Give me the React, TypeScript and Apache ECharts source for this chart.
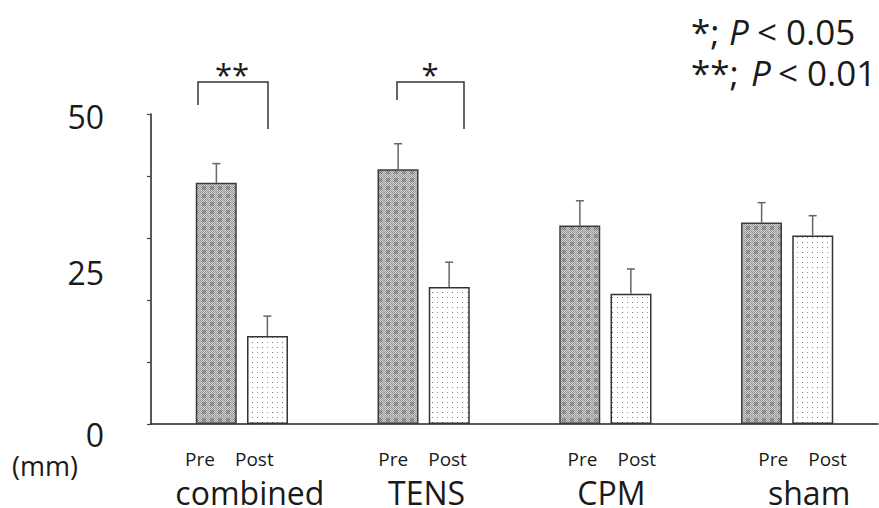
import React, { useEffect, useRef } from "react";
import * as echarts from "echarts";

const categories = ["combined", "TENS", "CPM", "sham"];
const preValues = [38.9, 41.1, 32.0, 32.5];
const postValues = [14.2, 22.1, 21.0, 30.4];
const preErr = [3.1, 4.1, 4.0, 3.2];
const postErr = [3.2, 4.0, 4.0, 3.2];
const yTickLabels = [0, 25, 50];
const subLabels = ["Pre", "Post"];
const sigMarks = ["*;", "**;"];
const sigLevels = ["< 0.05", "< 0.01"];

// layout-only tweaks (pixels)
const line1Shift = [-12.5, -1, 6.5, 15.5];
const line2Shift = [8, 3, 6, 22];
const yLabelPad: Record<number, number> = { 0: 20, 25: 7, 50: 4 };

const FONT = "'Open Sans', 'Noto Sans', sans-serif";
const BAR_W = 41;
const HALF_OFF = 25.5;

function makePrePattern() {
  const c = document.createElement("canvas");
  c.width = 8;
  c.height = 8;
  const ctx = c.getContext("2d")!;
  for (let y = 0; y < 8; y++) {
    for (let x = 0; x < 8; x++) {
      const inner = x >= 2 && x <= 5 && y >= 2 && y <= 5;
      const odd = (x + y) % 2 === 0;
      let col;
      if (inner) col = odd ? "#7a7a7a" : "#a4a4a4";
      else col = odd ? "#969696" : "#d0d0d0";
      ctx.fillStyle = col;
      ctx.fillRect(x, y, 1, 1);
    }
  }
  return c;
}

function makePostPattern() {
  const c = document.createElement("canvas");
  c.width = 10;
  c.height = 10;
  const ctx = c.getContext("2d")!;
  ctx.fillStyle = "#ffffff";
  ctx.fillRect(0, 0, 10, 10);
  ctx.fillStyle = "#6a6a6a";
  ctx.fillRect(2, 2, 1, 1);
  ctx.fillStyle = "#909090";
  ctx.fillRect(7, 7, 1, 1);
  ctx.fillStyle = "#a0a0a0";
  ctx.fillRect(7, 2, 1, 1);
  ctx.fillStyle = "#888888";
  ctx.fillRect(2, 7, 1, 1);
  return c;
}

export default function App() {
  const ref = useRef<HTMLDivElement>(null);
  useEffect(() => {
    if (!ref.current) return;
    const chart = echarts.init(ref.current, undefined, { renderer: "svg" });

    const rich: any = {
      p: { fontFamily: FONT, fontSize: 19, color: "#1a1a1a", lineHeight: 26 },
      g: { width: 20 },
      c: { fontFamily: FONT, fontSize: 32, color: "#1a1a1a", lineHeight: 40 },
    };
    const shiftToken = (key: string, d: number) => {
      rich[key] = { width: Math.abs(d) * 2, lineHeight: 10 };
    };
    categories.forEach((_, i) => {
      shiftToken("a" + i, line1Shift[i]);
      shiftToken("b" + i, line2Shift[i]);
    });

    const errData = (vals: number[], errs: number[], side: number) =>
      vals.map((v, i) => [i, v, v + errs[i], side]);

    const renderErr = (params: any, api: any) => {
      const ci = api.value(0);
      const side = api.value(3);
      const base = api.coord([ci, api.value(1)]);
      const top = api.coord([ci, api.value(2)]);
      const x = base[0] + side * HALF_OFF;
      return {
        type: "group",
        children: [
          {
            type: "line",
            shape: { x1: x, y1: base[1], x2: x, y2: top[1] },
            style: { stroke: "#666", lineWidth: 1.5 },
          },
          {
            type: "line",
            shape: { x1: x - 4, y1: top[1], x2: x + 4, y2: top[1] },
            style: { stroke: "#666", lineWidth: 1.5 },
          },
        ],
      };
    };

    const txt = { fontFamily: FONT, fill: "#1a1a1a" };
    const legendLeft = [
      [691, 729, 757],
      [691, 751, 778],
    ];
    const legendY = [31, 72];
    const legendItems: any[] = [];
    sigMarks.forEach((m, i) => {
      const xs = legendLeft[i];
      const y = legendY[i];
      legendItems.push(
        { type: "text", x: xs[0], y, style: { ...txt, text: m, fontSize: 35, verticalAlign: "middle", align: "left" } },
        { type: "text", x: xs[1], y, style: { ...txt, text: "P", fontSize: 35, fontStyle: "italic", verticalAlign: "middle", align: "left" } },
        { type: "text", x: xs[2], y, style: { ...txt, text: sigLevels[i], fontSize: 35, verticalAlign: "middle", align: "left" } }
      );
    });

    chart.setOption({
      animation: false,
      backgroundColor: "#ffffff",
      grid: { left: 151, right: 1, top: 114, bottom: 80 },
      xAxis: {
        type: "category",
        data: categories,
        axisLine: { lineStyle: { color: "#222", width: 1.5 } },
        axisTick: { show: false },
        axisLabel: {
          margin: 22,
          interval: 0,
          formatter: (name: string) => {
            const i = categories.indexOf(name);
            const a1 = line1Shift[i] >= 0 ? `{a${i}|}` : "";
            const a2 = line1Shift[i] < 0 ? `{a${i}|}` : "";
            const b1 = line2Shift[i] >= 0 ? `{b${i}|}` : "";
            const b2 = line2Shift[i] < 0 ? `{b${i}|}` : "";
            return `${a1}{p|${subLabels[0]}}{g|}{p|${subLabels[1]}}${a2}\n${b1}{c|${name}}${b2}`;
          },
          rich,
        },
      },
      yAxis: [
        {
          type: "value",
          min: 0,
          max: 50,
          interval: 10,
          position: "left",
          axisLine: { show: true, lineStyle: { color: "#222", width: 1.5 } },
          axisTick: { show: true, length: 4, lineStyle: { color: "#444", width: 1.2 } },
          axisLabel: { show: false },
          splitLine: { show: false },
        },
        {
          type: "value",
          min: 0,
          max: 50,
          interval: 25,
          position: "left",
          axisLine: { show: false },
          axisTick: { show: false },
          splitLine: { show: false },
          axisLabel: {
            margin: 47,
            formatter: (v: number) =>
              yTickLabels.includes(v) ? `{y${v}|${v}}` : "",
            rich: Object.fromEntries(
              yTickLabels.map((v) => [
                "y" + v,
                {
                  fontFamily: FONT,
                  fontSize: 32,
                  color: "#1a1a1a",
                  padding: [yLabelPad[v] || 0, 0, 0, 0],
                },
              ])
            ),
          },
        },
      ],
      series: [
        {
          type: "bar",
          name: subLabels[0],
          data: preValues,
          barWidth: BAR_W,
          barGap: "25%",
          itemStyle: {
            color: { image: makePrePattern(), repeat: "repeat" },
            borderColor: "#3c3c3c",
            borderWidth: 1.5,
          },
        },
        {
          type: "bar",
          name: subLabels[1],
          data: postValues,
          barWidth: BAR_W,
          barGap: "25%",
          itemStyle: {
            color: { image: makePostPattern(), repeat: "repeat" },
            borderColor: "#333",
            borderWidth: 1.5,
          },
        },
        {
          type: "custom",
          renderItem: renderErr,
          data: errData(preValues, preErr, -1),
          z: 5,
        },
        {
          type: "custom",
          renderItem: renderErr,
          data: errData(postValues, postErr, 1),
          z: 5,
        },
      ],
      graphic: [
        // combined bracket
        { type: "polyline", shape: { points: [[198, 105], [198, 82], [268, 82], [268, 129]] }, style: { stroke: "#333", lineWidth: 1.5, fill: null } },
        { type: "text", x: 232, y: 74, style: { ...txt, text: "**", fontSize: 31, align: "center", verticalAlign: "middle" } },
        // TENS bracket
        { type: "polyline", shape: { points: [[397, 100], [397, 82], [464, 82], [464, 129]] }, style: { stroke: "#333", lineWidth: 1.5, fill: null } },
        { type: "text", x: 430, y: 74, style: { ...txt, text: "*", fontSize: 31, align: "center", verticalAlign: "middle" } },
        ...legendItems,
        { type: "text", x: 12, y: 465, style: { ...txt, text: "(mm)", fontSize: 27, align: "left", verticalAlign: "middle" } },
      ],
    });
    return () => chart.dispose();
  }, []);
  return <div ref={ref} style={{ width: 879, height: 508, position: "absolute", left: 0, top: 0 }} />;
}
